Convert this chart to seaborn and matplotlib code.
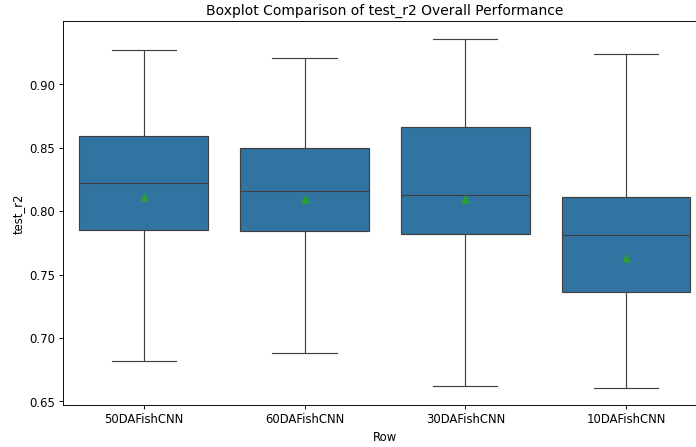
import numpy as np
import pandas as pd
import matplotlib
matplotlib.use("Agg")
import matplotlib.pyplot as plt
import seaborn as sns

# ── Data ──────────────────────────────────────────────────────────
MODELS = ["50DAFishCNN", "60DAFishCNN", "30DAFishCNN", "10DAFishCNN"]

# five-number summaries per model: whisker low, Q1, median, Q3, whisker high
R2_50 = [0.682, 0.785, 0.822, 0.859, 0.927]
R2_60 = [0.688, 0.784, 0.816, 0.850, 0.921]
R2_30 = [0.662, 0.782, 0.813, 0.866, 0.936]
R2_10 = [0.661, 0.736, 0.781, 0.811, 0.924]

MEANS = [0.811, 0.810, 0.810, 0.763]


# ── Build long-form table ─────────────────────────────────────────
df = pd.DataFrame({
    "Row":     np.repeat(MODELS, 5),
    "test_r2": R2_50 + R2_60 + R2_30 + R2_10,
})
means_df = pd.DataFrame({"Row": MODELS, "test_r2": MEANS})


# ── Plot ──────────────────────────────────────────────────────────
DPI = 83.5
W, H = 696, 447
fig = plt.figure(figsize=((W + 0.3) / DPI, (H + 0.3) / DPI), dpi=DPI)
ax = fig.add_axes([63.4 / W, 1 - 405 / H, (706 - 63.4) / W, (405 - 21.5) / H])

sns.boxplot(
    data=df, x="Row", y="test_r2",
    order=MODELS, whis=np.inf, ax=ax
)
sns.stripplot(
    data=means_df, x="Row", y="test_r2",
    order=MODELS, jitter=False, marker="^",
    color="#2ca02c", size=6, linewidth=1,
    edgecolor="#2ca02c", ax=ax, zorder=5
)

ax.set_title("Boxplot Comparison of test_r2 Overall Performance")
ax.set_xlabel("Row")
ax.set_ylabel("test_r2")

plt.savefig("out.png", dpi=DPI)
